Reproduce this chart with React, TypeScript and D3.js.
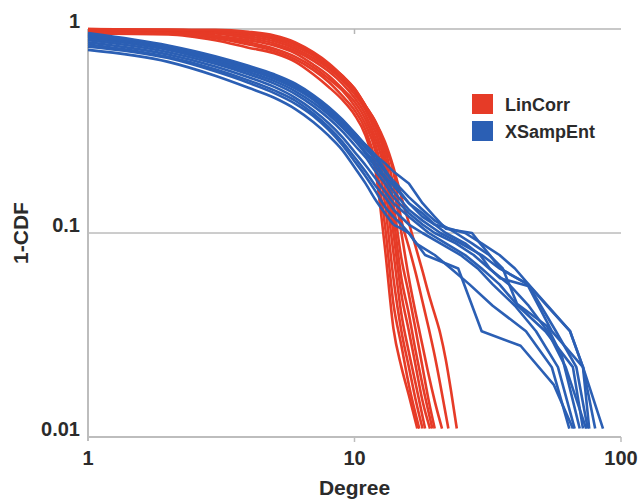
import React from "react";
import * as d3 from "d3";

type Pt = [number, number];

const xTicks = [1, 10, 100];
const yTicks = [0.01, 0.1, 1];
const xTickLabels = ["1", "10", "100"];
const yTickLabels = ["0.01", "0.1", "1"];
const seriesNames = ["LinCorr", "XSampEnt"];
const seriesColors = ["#e63b27", "#2b5fb4"];

const linCorrRuns: Pt[][] = [
  [[1, .95], [2, .94], [3, .88], [4, .81], [5, .76], [6, .69], [7, .6], [8, .52], [9, .45], [10, .38], [11, .3], [12, .2], [13, .085], [14, .034], [15, .022], [16, .016], [17.2, .011]],
  [[1, .96], [2, .95], [3, .9], [4, .84], [5, .78], [6, .71], [7, .63], [8, .55], [9, .47], [10, .4], [11, .32], [12, .22], [13, .11], [14, .045], [15, .028], [16, .018], [17.5, .011]],
  [[1, .97], [2, .96], [3, .92], [4, .86], [5, .8], [6, .73], [7, .65], [8, .57], [9, .5], [10, .42], [11, .34], [12, .25], [13, .14], [14, .06], [15, .033], [16, .022], [17, .015], [18, .011]],
  [[1, .97], [2, .97], [3, .93], [4, .88], [5, .83], [6, .76], [7, .67], [8, .59], [9, .51], [10, .44], [11, .36], [12, .27], [13, .17], [14, .08], [15, .04], [16, .026], [17, .018], [18.4, .011]],
  [[1, .98], [2, .97], [3, .95], [4, .9], [5, .85], [6, .78], [7, .7], [8, .62], [9, .54], [10, .46], [11, .38], [12, .29], [13, .2], [14, .1], [15, .05], [16, .033], [17, .022], [18, .015], [19.2, .011]],
  [[1, .98], [2, .98], [3, .96], [4, .92], [5, .87], [6, .8], [7, .72], [8, .64], [9, .56], [10, .48], [11, .4], [12, .31], [13, .22], [14, .12], [15, .06], [16, .04], [17, .026], [18, .018], [19.6, .011]],
  [[1, .99], [2, .98], [3, .97], [4, .94], [5, .89], [6, .82], [7, .74], [8, .65], [9, .57], [10, .5], [11, .41], [12, .33], [13, .24], [14, .14], [15, .075], [16, .05], [17, .033], [18, .022], [19, .015], [20, .011]],
  [[1, .99], [2, .99], [3, .97], [4, .95], [5, .9], [6, .84], [7, .75], [8, .66], [9, .58], [10, .5], [11, .42], [12, .34], [13, .26], [14, .17], [15, .1], [16, .06], [17, .04], [18, .028], [19, .02], [20, .015], [21.3, .011]],
  [[1, 1], [2, .99], [3, .98], [4, .96], [5, .91], [6, .85], [7, .76], [8, .67], [9, .59], [10, .51], [11, .42], [12, .35], [13, .27], [14, .2], [15, .115], [16, .085], [17, .063], [18, .046], [19, .034], [20, .025], [21, .018], [22.5, .011]],
  [[1, 1], [2, .99], [3, .99], [4, .97], [5, .93], [6, .86], [7, .77], [8, .68], [9, .59], [10, .51], [11, .42], [12, .35], [13, .28], [14, .21], [15, .15], [16.4, .1], [18, .065], [19, .05], [20, .04], [21, .032], [22, .024], [23, .017], [24.2, .011]],
];

const xSampEntRuns: Pt[][] = [
  [[1, .82], [2, .72], [3, .62], [4, .545], [5, .485], [6, .43], [7, .375], [8, .32], [9, .27], [10, .225], [11, .19], [12, .16], [13, .135], [14, .12], [15, .11], [16, .1], [18.4, .078], [24.5, .067], [30, .033], [42, .028], [56, .018], [66, .011]],
  [[1, .79], [2, .69], [3, .59], [4, .515], [5, .46], [6, .405], [7, .35], [8, .3], [9, .255], [10, .21], [11, .175], [12, .145], [13, .125], [14, .11], [15, .105], [16, .1], [17, .089], [20, .078], [23, .067], [27, .056], [33, .044], [44, .033], [55, .022], [64, .011]],
  [[1, .84], [2, .73], [3, .635], [4, .56], [5, .5], [6, .445], [7, .385], [8, .33], [9, .28], [10, .235], [11, .2], [12, .17], [13, .15], [14, .13], [16, .11], [18, .1], [21, .089], [25, .078], [29, .067], [33, .056], [40, .044], [48, .033], [58, .022], [67, .011]],
  [[1, .86], [2, .75], [3, .655], [4, .58], [5, .52], [6, .46], [7, .4], [8, .345], [9, .295], [10, .25], [11, .215], [12, .185], [13, .16], [14, .14], [16, .12], [19, .1], [22, .089], [26, .078], [30, .067], [35, .056], [41, .044], [52, .033], [66, .022], [72, .011]],
  [[1, .88], [2, .77], [3, .675], [4, .6], [5, .54], [6, .48], [7, .42], [8, .365], [9, .315], [10, .27], [11, .235], [12, .2], [13, .175], [14, .15], [16, .125], [18, .11], [20, .1], [24, .089], [28, .078], [32, .067], [38, .056], [45, .044], [53, .033], [62, .022], [74, .011]],
  [[1, .9], [2, .79], [3, .69], [4, .615], [5, .555], [6, .495], [7, .435], [8, .38], [9, .33], [10, .285], [11, .245], [12, .21], [13, .185], [14, .16], [16, .13], [18, .115], [21, .1], [25, .089], [30, .078], [35, .067], [44.8, .056], [50, .044], [57, .033], [68, .022], [75, .011]],
  [[1, .92], [2, .8], [3, .705], [4, .63], [5, .57], [6, .51], [7, .45], [8, .39], [9, .34], [10, .29], [11, .25], [12, .22], [13, .19], [14, .17], [16, .14], [18, .12], [20, .11], [22, .1], [26, .089], [29.6, .078], [32.2, .067], [35.2, .06], [44.8, .055], [55, .033], [72, .022], [76, .011]],
  [[1, .93], [2, .81], [3, .715], [4, .64], [5, .58], [6, .52], [7, .46], [8, .4], [9, .35], [10, .3], [11, .26], [12, .23], [13, .2], [14, .18], [16, .15], [18, .13], [20, .115], [24, .1], [27.6, .089], [32, .078], [36, .067], [40.7, .045], [52.7, .035], [60, .025], [70, .011]],
  [[1, .94], [2, .82], [3, .725], [4, .65], [5, .59], [6, .53], [7, .465], [8, .405], [9, .355], [10, .31], [11, .27], [12, .24], [13, .205], [14, .175], [16, .14], [18, .125], [20, .11], [26, .1], [30, .089], [35, .078], [40, .067], [45, .056], [53, .044], [64.4, .033], [72, .022], [80, .011]],
  [[1, .955], [2, .83], [3, .735], [4, .66], [5, .6], [6, .54], [7, .475], [8, .415], [9, .36], [10, .31], [11, .27], [12, .24], [13, .22], [14, .2], [16, .175], [18, .14], [20, .12], [22, .105], [27.6, .1], [29.6, .089], [32.2, .078], [35.2, .067], [44.8, .056], [52.7, .044], [64.4, .033], [72, .022], [85.6, .011]],
];

const W = 643;
const H = 504;
const FONT = "'Liberation Sans', Arial, Helvetica, sans-serif";
const TEXT = "#2b2b2b";
const SMOOTH_UNTIL = 14;

export default function App() {
  const x = d3.scaleLog().domain([1, 100]).range([88, 621]);
  const y = d3.scaleLog().domain([0.01, 1]).range([437, 29]);

  const smoothLine = d3
    .line<Pt>()
    .x((d) => x(d[0]))
    .y((d) => y(d[1]))
    .curve(d3.curveMonotoneX);
  const straightLine = d3
    .line<Pt>()
    .x((d) => x(d[0]))
    .y((d) => y(d[1]))
    .curve(d3.curveLinear);

  const [x0, x1] = x.range();
  const yBottom = y(0.01);

  return (
    <svg
      width={W}
      height={H}
      style={{ position: "absolute", left: 0, top: 0, background: "#fff" }}
      fontFamily={FONT}
    >
      <line x1={x0} x2={x1} y1={y(1)} y2={y(1)} stroke="#c8c8c8" strokeWidth={2} />
      <line x1={x(10)} x2={x(10)} y1={y(1)} y2={y(1) + 5} stroke="#b5b5b5" strokeWidth={1.5} />
      <line x1={x0} x2={x1} y1={y(0.1)} y2={y(0.1)} stroke="#9a9a9a" strokeWidth={1} />
      <line x1={x0} x2={x0} y1={y(1)} y2={yBottom + 4} stroke="#bdbdbd" strokeWidth={2} />
      <line x1={x0} x2={x1} y1={yBottom} y2={yBottom} stroke="#bdbdbd" strokeWidth={2} />
      {xTicks.slice(1).map((t) => (
        <line key={t} x1={x(t)} x2={x(t)} y1={yBottom} y2={yBottom + 5} stroke="#bdbdbd" strokeWidth={1.5} />
      ))}

      {linCorrRuns.map((run, i) => (
        <path key={"r" + i} d={smoothLine(run) || ""} fill="none" stroke={seriesColors[0]} strokeWidth={2.6} strokeLinejoin="round" />
      ))}
      {xSampEntRuns.map((run, i) => {
        const head = run.filter((p) => p[0] <= SMOOTH_UNTIL);
        const tail = run.filter((p) => p[0] >= SMOOTH_UNTIL);
        return (
          <g key={"b" + i}>
            <path d={smoothLine(head) || ""} fill="none" stroke={seriesColors[1]} strokeWidth={2.6} strokeLinejoin="round" />
            <path d={straightLine(tail) || ""} fill="none" stroke={seriesColors[1]} strokeWidth={2.6} strokeLinejoin="round" />
          </g>
        );
      })}

      {yTicks.map((t, i) => (
        <text key={t} x={80} y={y(t) - 1} textAnchor="end" fontSize={20} fontWeight="bold" fill={TEXT}>
          {yTickLabels[i]}
        </text>
      ))}
      {xTicks.map((t, i) => (
        <text key={t} x={x(t)} y={465} textAnchor="middle" fontSize={20} fontWeight="bold" fill={TEXT}>
          {xTickLabels[i]}
        </text>
      ))}
      <text x={x(10)} y={495} textAnchor="middle" fontSize={21} fontWeight="bold" fill={TEXT}>
        Degree
      </text>
      <text
        transform={`translate(28, ${y(0.1)}) rotate(-90)`}
        textAnchor="middle"
        fontSize={21}
        fontWeight="bold"
        fill={TEXT}
      >
        1-CDF
      </text>

      {seriesNames.map((name, i) => (
        <g key={name} transform={`translate(472, ${94 + i * 27})`}>
          <rect width={21} height={20} fill={seriesColors[i]} />
          <text x={33} y={17} fontSize={18} fontWeight="bold" fill={TEXT}>
            {name}
          </text>
        </g>
      ))}
    </svg>
  );
}
